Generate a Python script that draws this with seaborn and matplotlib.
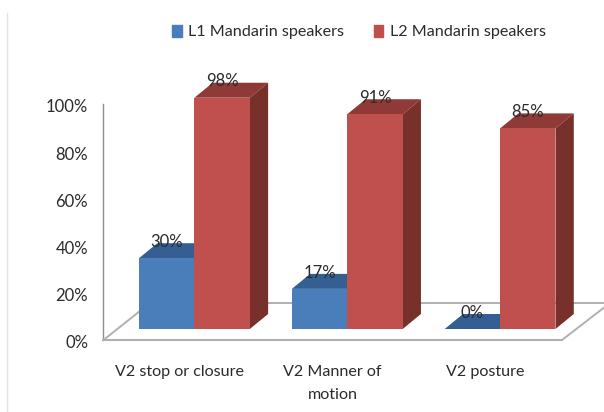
import matplotlib
matplotlib.use('Agg')
import pandas as pd
import matplotlib.pyplot as plt
import seaborn as sns
from matplotlib.patches import Patch
from matplotlib.transforms import ScaledTranslation

# Values
categories = ['V2 stop or closure', 'V2 Manner of\nmotion', 'V2 posture']
l1_values = [30, 17, 0]
l2_values = [98, 91, 85]
l1_labels = ['30%', '17%', '0%']
l2_labels = ['98%', '91%', '85%']
y_ticks = [0, 20, 40, 60, 80, 100]
series_names = ['L1 Mandarin speakers', 'L2 Mandarin speakers']

W, H = 604, 412
FRONT = {'L1 Mandarin speakers': '#4a7ebb', 'L2 Mandarin speakers': '#c0504d'}
TOP = ['#355f92', '#8f3a36']
SIDE = ['#2f5480', '#77302a']
TEXT = '#2b2b2b'

sns.set_theme(style='white')
plt.rcParams['font.family'] = ['Lato', 'DejaVu Sans']


def rect(left, right, top, bottom):
    # pixel box (from top left of the image) to figure fractions
    return [left / W, 1 - bottom / H, (right - left) / W, (bottom - top) / H]


df = pd.DataFrame({
    'category': categories * 2,
    'value': l1_values + l2_values,
    'series': [series_names[0]] * 3 + [series_names[1]] * 3,
})

fig = plt.figure(figsize=(W / 100, H / 100), dpi=100, facecolor='white')

# axis frame: front edge of the floor
ax = fig.add_axes(rect(103.5, 562, 104, 340))
ax.set_xlim(-0.5, 2.5)
ax.set_ylim(0, 100)
ax.set_xticks(range(3), categories)
ax.set_yticks(y_ticks, [f'{v}%' for v in y_ticks])
ax.tick_params(axis='y', length=0, pad=11, labelsize=12, labelcolor=TEXT)
ax.tick_params(axis='x', length=0, pad=18, labelsize=11.6, labelcolor=TEXT)
for label in ax.get_xticklabels():
    label.set_linespacing(1.85)
# y labels sit a little lower than their level in the original
shift = ScaledTranslation(0, -2 / 100, fig.dpi_scale_trans)
for label in ax.get_yticklabels():
    label.set_transform(label.get_transform() + shift)
for s in ['top', 'right']:
    ax.spines[s].set_visible(False)
ax.spines['left'].set_color('#8f8f8f')
ax.spines['left'].set_linewidth(1.0)
ax.spines['bottom'].set_color('#b0b0b0')
ax.spines['bottom'].set_linewidth(1.5)


# floor edges and back wall line, in pixels
def fig_xy(x, y):
    return x / W, 1 - y / H


for (x0, y0), (x1, y1) in [((103.5, 340), (150, 303)), ((150, 303), (612, 303)), ((562, 340), (610, 303))]:
    a, b = fig_xy(x0, y0), fig_xy(x1, y1)
    fig.add_artist(plt.Line2D([a[0], b[0]], [a[1], b[1]], color='#b0b0b0', lw=1.4, zorder=1))

# faint border on the left of the picture
a, b = fig_xy(7.5, 13), fig_xy(7.5, 412)
fig.add_artist(plt.Line2D([a[0], b[0]], [a[1], b[1]], color='#e2e2e2', lw=1.0))

# bars sit further back on the floor
ax_bars = fig.add_axes(rect(118, 576.5, 93, 329), zorder=3)
ax_bars.patch.set_alpha(0)
sns.barplot(data=df, x='category', y='value', hue='series', palette=FRONT, order=categories,
            width=0.725, gap=0, saturation=1, legend=False, linewidth=0, ax=ax_bars)
ax_bars.set_xlim(-0.5, 2.5)
ax_bars.set_ylim(0, 100)
ax_bars.axis('off')

# 3D faces made from each bar's own position and size
dx = 18.3 / (458.5 / 3)
dy = 15 / 2.36
for i, container in enumerate(ax_bars.containers):
    for bar in container:
        x0, w, h = bar.get_x(), bar.get_width(), bar.get_height()
        z = 2 + i
        bar.set_zorder(z + 0.2)
        ax_bars.fill([x0, x0 + w, x0 + w + dx, x0 + dx], [h, h, h + dy, h + dy],
                     color=TOP[i], lw=0, zorder=z, clip_on=False)
        if h > 0:
            ax_bars.fill([x0 + w, x0 + w + dx, x0 + w + dx, x0 + w], [0, dy, h + dy, h],
                         color=SIDE[i], lw=0, zorder=z, clip_on=False)

for container, labels in zip(ax_bars.containers, [l1_labels, l2_labels]):
    texts = ax_bars.bar_label(container, labels=labels, padding=6, fontsize=12, color=TEXT)
    for t in texts:
        t.set_zorder(10)

handles = [Patch(color=FRONT[n], label=n) for n in series_names]
fig.legend(handles=handles, loc='center', bbox_to_anchor=(359 / W, 1 - 32 / H), ncol=2, frameon=False,
           fontsize=11.6, labelcolor=TEXT, handlelength=0.62, handleheight=0.75, handletextpad=0.4, columnspacing=1.8)

fig.savefig('out.png', dpi=100)
